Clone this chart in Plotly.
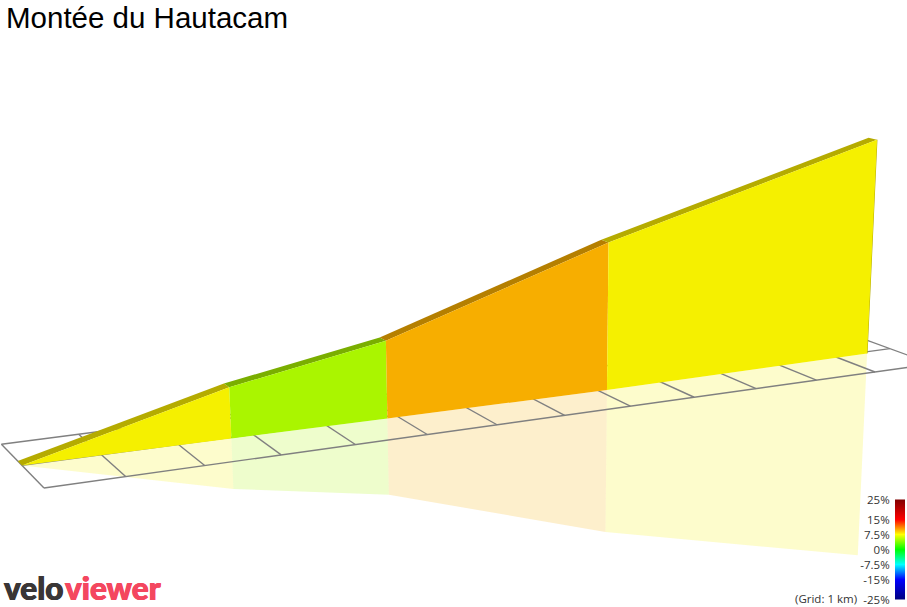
import numpy as np
import plotly.graph_objects as go

# Climb data: segment boundaries along the road and relative elevation
segment_km = [0.0, 2.69, 4.84, 8.12, 12.53]
segment_elev_m = [0, 213, 332, 651, 990]
road_row = [1.0, 0.95, 0.9, 0.85, 0.92]          # offset of road across the grid
wall_colors = ["#F5F000", "#AAF500", "#F7AE00", "#F5F000"]
road_colors = ["#B5AB00", "#7AAE00", "#B57F00", "#B5AB00"]
reflection_alpha = 0.2
road_width = 0.2

grid_km_marks = list(range(0, 14))
grid_rows = [0, 1, 2]

scale_values = [-25, -15, -7.5, 0, 7.5, 15, 25]
scale_labels = ["-25%", "-15%", "-7.5%", "0%", "7.5%", "15%", "25%"]
scale_colors = ["#000080", "#0000FF", "#00FFFF", "#00FF00", "#FFFF00", "#FF0000", "#800000"]

TITLE = "Montée du Hautacam"
W, H = 907, 607

# Camera: homogeneous projection of (km, row, elevation) to page pixels
C1, C2, C3 = 0.016534, 0.0335, -3.535e-5
U1, U2, U3, U0 = 83.72, -21.26, 528 * C3, 44.0
V1, V2, V3, V0 = -3.517, -7.0, 7700 * C3, 488.0


def project(km, row, elev):
    km, row, elev = (np.asarray(a, float) for a in (km, row, elev))
    w = 1 + C1 * km + C2 * row + C3 * elev
    return (U0 + U1 * km + U2 * row + U3 * elev) / w, (V0 + V1 * km + V2 * row + V3 * elev) / w


def polygon(km, row, elev, color):
    x, y = project(km, row, elev)
    return go.Scatter(x=x, y=y, mode="lines", fill="toself", fillcolor=color,
                      line=dict(width=0), hoverinfo="skip", showlegend=False)


def rgba(hexcolor, a):
    r, g, b = (int(hexcolor[i:i + 2], 16) for i in (1, 3, 5))
    return f"rgba({r},{g},{b},{a})"


fig = go.Figure()
n = len(wall_colors)

# mirrored wall under the ground
for i in range(n):
    k = [segment_km[i], segment_km[i + 1], segment_km[i + 1], segment_km[i]]
    r = [road_row[i], road_row[i + 1], road_row[i + 1], road_row[i]]
    e = [0, 0, -segment_elev_m[i + 1], -segment_elev_m[i]]
    fig.add_trace(polygon(k, r, e, rgba(wall_colors[i], reflection_alpha)))

# ground grid
gx, gy = [], []
for m in grid_km_marks:
    x, y = project([m, m], [grid_rows[0], grid_rows[-1]], [0, 0])
    gx += list(x) + [None]
    gy += list(y) + [None]
for row in grid_rows:
    end = grid_km_marks[-1] + (1 if row == 0 else 0)
    x, y = project([0, end], [row, row], [0, 0])
    gx += list(x) + [None]
    gy += list(y) + [None]
fig.add_trace(go.Scatter(x=gx, y=gy, mode="lines", line=dict(color="#808080", width=1.4),
                         hoverinfo="skip", showlegend=False))

# road ribbon, the thin far end of the wall, then the coloured wall
for i in range(n):
    k = [segment_km[i], segment_km[i + 1], segment_km[i + 1], segment_km[i]]
    r = [road_row[i], road_row[i + 1], road_row[i + 1] + road_width, road_row[i] + road_width]
    e = [segment_elev_m[i], segment_elev_m[i + 1], segment_elev_m[i + 1], segment_elev_m[i]]
    fig.add_trace(polygon(k, r, e, road_colors[i]))
ex, ey = project([segment_km[-1]] * 2, [road_row[-1]] * 2, [0, segment_elev_m[-1]])
fig.add_trace(go.Scatter(x=ex, y=ey, mode="lines", line=dict(color=road_colors[-1], width=1),
                         hoverinfo="skip", showlegend=False))
for i in range(n):
    k = [segment_km[i], segment_km[i + 1], segment_km[i + 1], segment_km[i]]
    r = [road_row[i], road_row[i + 1], road_row[i + 1], road_row[i]]
    e = [0, 0, segment_elev_m[i + 1], segment_elev_m[i]]
    fig.add_trace(polygon(k, r, e, wall_colors[i]))

# gradient colour scale drawn as a one-column heatmap on its own small axes
span = scale_values[-1] - scale_values[0]
colorscale = [[(v - scale_values[0]) / span, c] for v, c in zip(scale_values, scale_colors)]
ramp = np.linspace(scale_values[0], scale_values[-1], 101)
fig.add_trace(go.Heatmap(z=ramp.reshape(-1, 1), y=ramp, x=[0], colorscale=colorscale,
                         zmin=scale_values[0], zmax=scale_values[-1], showscale=False,
                         hoverinfo="skip", xaxis="x2", yaxis="y2"))


def logo_part(text, x, color):
    return dict(text=text, x=x, y=587.5, xref="x", yref="y", xanchor="left", yanchor="middle",
                showarrow=False,
                font=dict(family="Lato", size=31.5, weight=900, color=color,
                          shadow=f"0.5px 0 0 {color}, -0.5px 0 0 {color}"))


fig.update_layout(
    width=W, height=H, margin=dict(l=0, r=0, t=0, b=0, autoexpand=False),
    paper_bgcolor="white", plot_bgcolor="white", showlegend=False,
    title=dict(text=TITLE, x=6 / W, xanchor="left", xref="paper",
               y=1 - 17.5 / H, yref="container", yanchor="middle",
               font=dict(family="Liberation Sans", size=29.5, color="#000000")),
    xaxis=dict(range=[0, W], visible=False, fixedrange=True, domain=[0, 1]),
    yaxis=dict(range=[H, 0], visible=False, fixedrange=True, domain=[0, 1]),
    xaxis2=dict(domain=[895 / W, 905 / W], visible=False, fixedrange=True, anchor="y2"),
    yaxis2=dict(domain=[7.5 / H, 107.5 / H], range=[scale_values[0] - 0.01, scale_values[-1]],
                anchor="free", position=895 / W,
                side="left", fixedrange=True, showgrid=False, zeroline=False, showline=False,
                tickmode="array", tickvals=scale_values, ticktext=scale_labels,
                ticks="outside", ticklen=3, tickcolor="rgba(0,0,0,0)",
                tickfont=dict(family="Open Sans", size=11.5, color="#333333")),
    annotations=[
        dict(text="(Grid: 1 km)", x=859, y=598, xref="x", yref="y", xanchor="right",
             yanchor="middle", showarrow=False,
             font=dict(family="Open Sans", size=11.5, color="#333333")),
        logo_part("velo", 2, "#3A3636"),
        logo_part("viewer", 63, "#F4475F"),
    ],
)

fig.write_html("out.html", config=dict(displayModeBar=False),
               post_script="document.body.style.margin='0';document.documentElement.style.overflow='hidden';")
